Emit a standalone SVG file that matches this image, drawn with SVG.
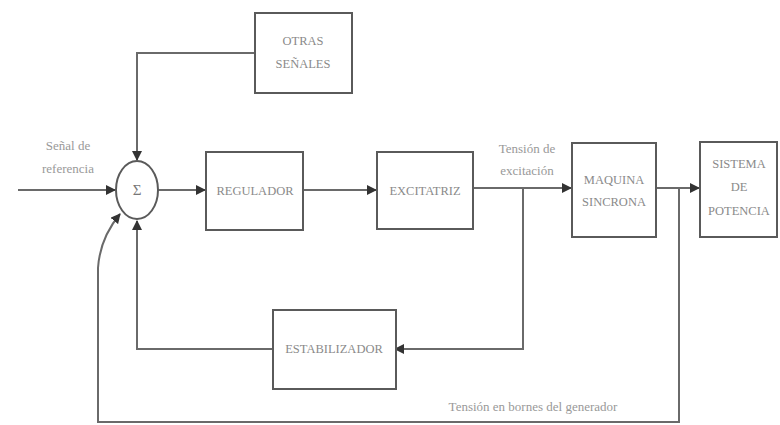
<svg xmlns="http://www.w3.org/2000/svg" width="780" height="425" viewBox="0 0 780 425">
<defs>
<style>
.box{fill:#fff;stroke:#5a5a5a;stroke-width:2}
.ln{fill:none;stroke:#6a6a6a;stroke-width:2}
.t{font-family:"Liberation Serif","Times New Roman",serif;font-size:12.5px;fill:#8a8a8a;text-anchor:middle}
.s{font-family:"Liberation Serif","Times New Roman",serif;font-size:13px;fill:#999;text-anchor:middle}
</style>
<marker id="ah" viewBox="0 0 10 10" refX="9" refY="5" markerWidth="5" markerHeight="5" orient="auto-start-reverse" markerUnits="strokeWidth">
<path d="M0,0 L10,5 L0,10 z" fill="#333"/>
</marker>
</defs>
<rect width="780" height="425" fill="#fff"/>
<g id="connectors">
<path class="ln" d="M255,53 H137 V160" marker-end="url(#ah)"/>
<path class="ln" d="M18,190 H115" marker-end="url(#ah)"/>
<path class="ln" d="M158,190 H205" marker-end="url(#ah)"/>
<path class="ln" d="M303,190 H376" marker-end="url(#ah)"/>
<path class="ln" d="M473,188 H571" marker-end="url(#ah)"/>
<path class="ln" d="M523,188 V349 H395" marker-end="url(#ah)"/>
<path class="ln" d="M273,349 H137 V221" marker-end="url(#ah)"/>
<path class="ln" d="M656,188 H699" marker-end="url(#ah)"/>
<path class="ln" d="M679,188 V422 H98 V268 Q100,238 120,214" marker-end="url(#ah)"/>
</g>
<g id="otras">
<rect class="box" x="255" y="13" width="97" height="80"/>
<text class="t" x="303" y="45">OTRAS</text>
<text class="t" x="303" y="68">SEÑALES</text>
</g>
<g id="sum">
<ellipse class="box" cx="137" cy="190" rx="21" ry="29"/>
<text class="s" x="137" y="195" style="font-size:15px;fill:#777">Σ</text>
</g>
<g id="regulador">
<rect class="box" x="206" y="152" width="97" height="78"/>
<text class="t" x="255" y="195">REGULADOR</text>
</g>
<g id="excitatriz">
<rect class="box" x="377" y="152" width="96" height="77"/>
<text class="t" x="425" y="195">EXCITATRIZ</text>
</g>
<g id="maquina">
<rect class="box" x="572" y="143" width="84" height="94"/>
<text class="t" x="614" y="184">MAQUINA</text>
<text class="t" x="614" y="206">SINCRONA</text>
</g>
<g id="sistema">
<rect class="box" x="700" y="142" width="77" height="95"/>
<text class="t" x="739" y="168">SISTEMA</text>
<text class="t" x="739" y="191">DE</text>
<text class="t" x="739" y="215">POTENCIA</text>
</g>
<g id="estabilizador">
<rect class="box" x="273" y="310" width="123" height="79"/>
<text class="t" x="334" y="353">ESTABILIZADOR</text>
</g>
<g id="labels">
<text class="s" x="68" y="150">Señal de</text>
<text class="s" x="68" y="173">referencia</text>
<text class="s" x="527" y="153">Tensión de</text>
<text class="s" x="527" y="175">excitación</text>
<text class="s" x="533" y="411">Tensión en bornes del generador</text>
</g>
</svg>
